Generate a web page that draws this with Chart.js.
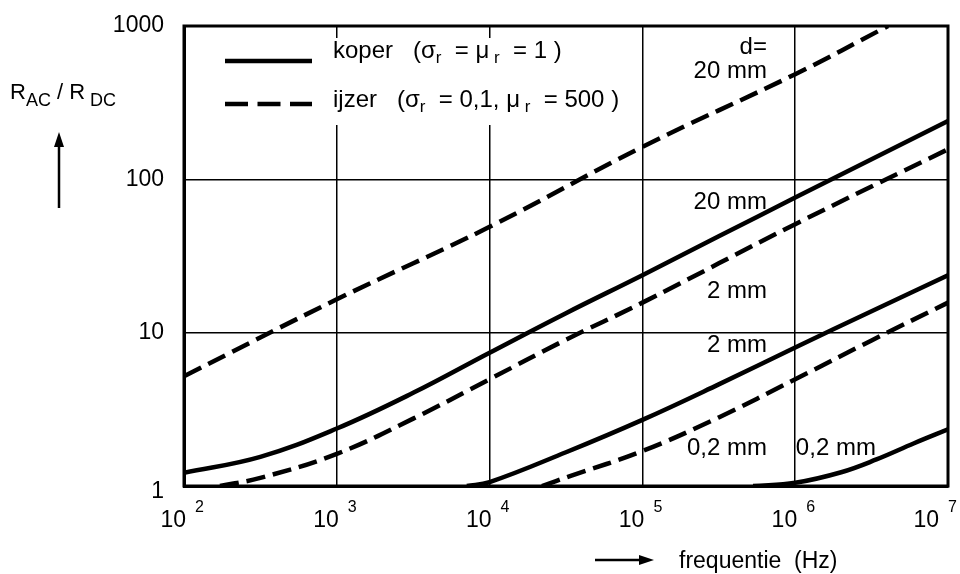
<!DOCTYPE html>
<html>
<head>
<meta charset="utf-8">
<script src="https://cdn.jsdelivr.net/npm/chart.js@4.4.1/dist/chart.umd.min.js"></script>
<style>
  html, body { margin: 0; background: #fff; }
</style>
</head>
<body>
<canvas id="skinChart" width="960" height="574"></canvas>
<script>
// decade ticks
const xTicks = [1e2, 1e3, 1e4, 1e5, 1e6, 1e7];
const xTickExp = ['2', '3', '4', '5', '6', '7'];
const yTicks = [1, 10, 100, 1000];
const yTickLabels = ['1', '10', '100', '1000'];

// koper (copper), d = 20 / 2 / 0,2 mm
const koper20Freq = [1e2, 3.16e2, 1e3, 3.16e3, 1e4, 3.16e4, 1e5, 3.16e5, 1e6, 1e7];
const koper20Val = [1.22, 1.55, 2.37, 4.05, 7.4, 13.4, 23.7, 42.5, 76, 240];
const koper2Freq = [7.1e3, 1e4, 3.16e4, 1e5, 3.16e5, 1e6, 3.16e6, 1e7];
const koper2Val = [1, 1.06, 1.66, 2.7, 4.6, 8.0, 13.8, 23.7];
const koper02Freq = [5.3e5, 1e6, 2e6, 3.4e6, 6e6, 1e7];
const koper02Val = [1, 1.05, 1.23, 1.49, 1.9, 2.34];

// ijzer (iron), d = 20 / 2 / 0,2 mm
const ijzer20Freq = [1e2, 1e3, 1e4, 1e5, 1e6, 4.05e6];
const ijzer20Val = [5.2, 16.5, 49, 163, 485, 1000];
const ijzer2Freq = [1.72e2, 3.16e2, 1e3, 3.16e3, 1e4, 3.16e4, 1e5, 1e6, 1e7];
const ijzer2Val = [1, 1.13, 1.62, 2.75, 4.97, 9.0, 15.7, 51, 157];
const ijzer02Freq = [2.2e4, 3.36e4, 1e5, 3.16e5, 1e6, 3.16e6, 1e7];
const ijzer02Val = [1, 1.16, 1.69, 2.8, 4.97, 8.9, 15.7];

// curve labels, anchored in data units
const noteText = ['d=', '20 mm', '20 mm', '2 mm', '2 mm', '0,2 mm', '0,2 mm'];
const noteFreq = [6.53e5, 6.53e5, 6.53e5, 6.53e5, 6.53e5, 6.53e5, 1.01e6];
const noteVal = [728, 507, 70.7, 18.6, 8.27, 1.76, 1.76];
const noteAlign = ['right', 'right', 'right', 'right', 'right', 'right', 'left'];

const FONT = '"Liberation Sans", Arial, Helvetica, sans-serif';

function toPoints(freq, val) {
    return freq.map((f, i) => ({ x: f, y: val[i] }));
}

function curve(freq, val, dashed) {
    return {
        data: toPoints(freq, val),
        borderColor: '#000',
        borderWidth: 4.5,
        borderDash: dashed ? [19, 8] : [],
        borderCapStyle: 'butt',
        pointRadius: 0,
        fill: false,
        tension: 0.4
    };
}

// text with sub/superscript parts: [text, shift, size]
function drawRich(ctx, x, y, parts) {
    let cx = x;
    parts.forEach(([text, shift, size]) => {
        ctx.font = size + 'px ' + FONT;
        ctx.fillText(text, cx, y + shift);
        cx += ctx.measureText(text).width;
    });
}

function arrow(ctx, x1, y1, x2, y2) {
    const ang = Math.atan2(y2 - y1, x2 - x1);
    const len = 15, half = 5;
    ctx.beginPath();
    ctx.moveTo(x1, y1);
    ctx.lineTo(x2 - len * Math.cos(ang), y2 - len * Math.sin(ang));
    ctx.lineWidth = 2.5;
    ctx.stroke();
    ctx.beginPath();
    ctx.moveTo(x2, y2);
    ctx.lineTo(x2 - len * Math.cos(ang) - half * Math.sin(ang), y2 - len * Math.sin(ang) + half * Math.cos(ang));
    ctx.lineTo(x2 - len * Math.cos(ang) + half * Math.sin(ang), y2 - len * Math.sin(ang) - half * Math.cos(ang));
    ctx.closePath();
    ctx.fill();
}

const decor = {
    id: 'decor',
    beforeDatasetsDraw(chart) {
        const ctx = chart.ctx;
        ctx.save();
        ctx.fillStyle = '#fff';
        ctx.fillRect(200, 38, 435, 87);
        ctx.restore();
    },
    afterDraw(chart) {
        const { ctx, chartArea: a, scales: { x, y } } = chart;
        ctx.save();
        ctx.fillStyle = '#000';
        ctx.strokeStyle = '#000';

        // frame
        ctx.lineWidth = 3;
        ctx.strokeRect(a.left, a.top, a.right - a.left, a.bottom - a.top);

        // x tick labels 10^n (last one pulled in to stay on the page)
        ctx.textBaseline = 'alphabetic';
        xTicks.forEach((v, i) => {
            const px = x.getPixelForValue(v) + (i === xTicks.length - 1 ? -9 : 2);
            ctx.font = '23px ' + FONT;
            ctx.textAlign = 'right';
            ctx.fillText('10', px, 527);
            ctx.font = '16px ' + FONT;
            ctx.textAlign = 'left';
            ctx.fillText(xTickExp[i], px + 9, 512);
        });

        // y tick labels
        ctx.font = '23px ' + FONT;
        ctx.textAlign = 'right';
        ctx.textBaseline = 'middle';
        yTicks.forEach((v, i) => {
            const py = y.getPixelForValue(v);
            ctx.fillText(yTickLabels[i], 164, v === 1 ? py + 6 : py);
        });

        // curve labels
        ctx.font = '24px ' + FONT;
        noteText.forEach((t, i) => {
            ctx.textAlign = noteAlign[i];
            ctx.fillText(t, x.getPixelForValue(noteFreq[i]), y.getPixelForValue(noteVal[i]));
        });

        // legend
        ctx.lineWidth = 4.5;
        ctx.beginPath();
        ctx.moveTo(225, 61);
        ctx.lineTo(312, 61);
        ctx.stroke();
        ctx.setLineDash([23, 9.5]);
        ctx.beginPath();
        ctx.moveTo(225, 104);
        ctx.lineTo(312, 104);
        ctx.stroke();
        ctx.setLineDash([]);
        ctx.textAlign = 'left';
        ctx.textBaseline = 'alphabetic';
        drawRich(ctx, 333, 58, [
            ['koper   (\u03c3', 0, 24], ['r', 5, 17], ['  = \u03bc', 0, 24], [' r', 5, 17], ['  = 1 )', 0, 24]
        ]);
        drawRich(ctx, 333, 107, [
            ['ijzer   (\u03c3', 0, 24], ['r', 5, 17], ['  = 0,1, \u03bc', 0, 24], [' r', 5, 17], ['  = 500 )', 0, 24]
        ]);

        // axis titles
        drawRich(ctx, 10, 99, [
            ['R', 0, 22], ['AC', 7, 18], [' / R', 0, 22], [' DC', 7, 18]
        ]);
        arrow(ctx, 59, 208, 59, 132);
        arrow(ctx, 595, 560, 654, 560);
        ctx.font = '23px ' + FONT;
        ctx.fillText('frequentie  (Hz)', 679, 568);
        ctx.restore();
    }
};

new Chart(document.getElementById('skinChart'), {
    type: 'line',
    data: {
        datasets: [
            curve(koper20Freq, koper20Val, false),
            curve(koper2Freq, koper2Val, false),
            curve(koper02Freq, koper02Val, false),
            curve(ijzer20Freq, ijzer20Val, true),
            curve(ijzer2Freq, ijzer2Val, true),
            curve(ijzer02Freq, ijzer02Val, true)
        ]
    },
    options: {
        responsive: false,
        animation: false,
        layout: { padding: { left: 184, right: 12, top: 26, bottom: 88 } },
        plugins: { legend: { display: false }, tooltip: { enabled: false } },
        scales: {
            x: {
                type: 'logarithmic',
                min: 1e2,
                max: 1e7,
                afterBuildTicks: s => { s.ticks = xTicks.map(v => ({ value: v })); },
                ticks: { display: false },
                grid: { color: '#000', lineWidth: 1.5, drawTicks: false },
                border: { display: true, color: '#000', width: 3 }
            },
            y: {
                type: 'logarithmic',
                min: 1,
                max: 1000,
                afterBuildTicks: s => { s.ticks = yTicks.map(v => ({ value: v })); },
                ticks: { display: false },
                grid: { color: '#000', lineWidth: 1.5, drawTicks: false },
                border: { display: true, color: '#000', width: 3 }
            }
        }
    },
    plugins: [decor]
});
</script>
</body>
</html>
